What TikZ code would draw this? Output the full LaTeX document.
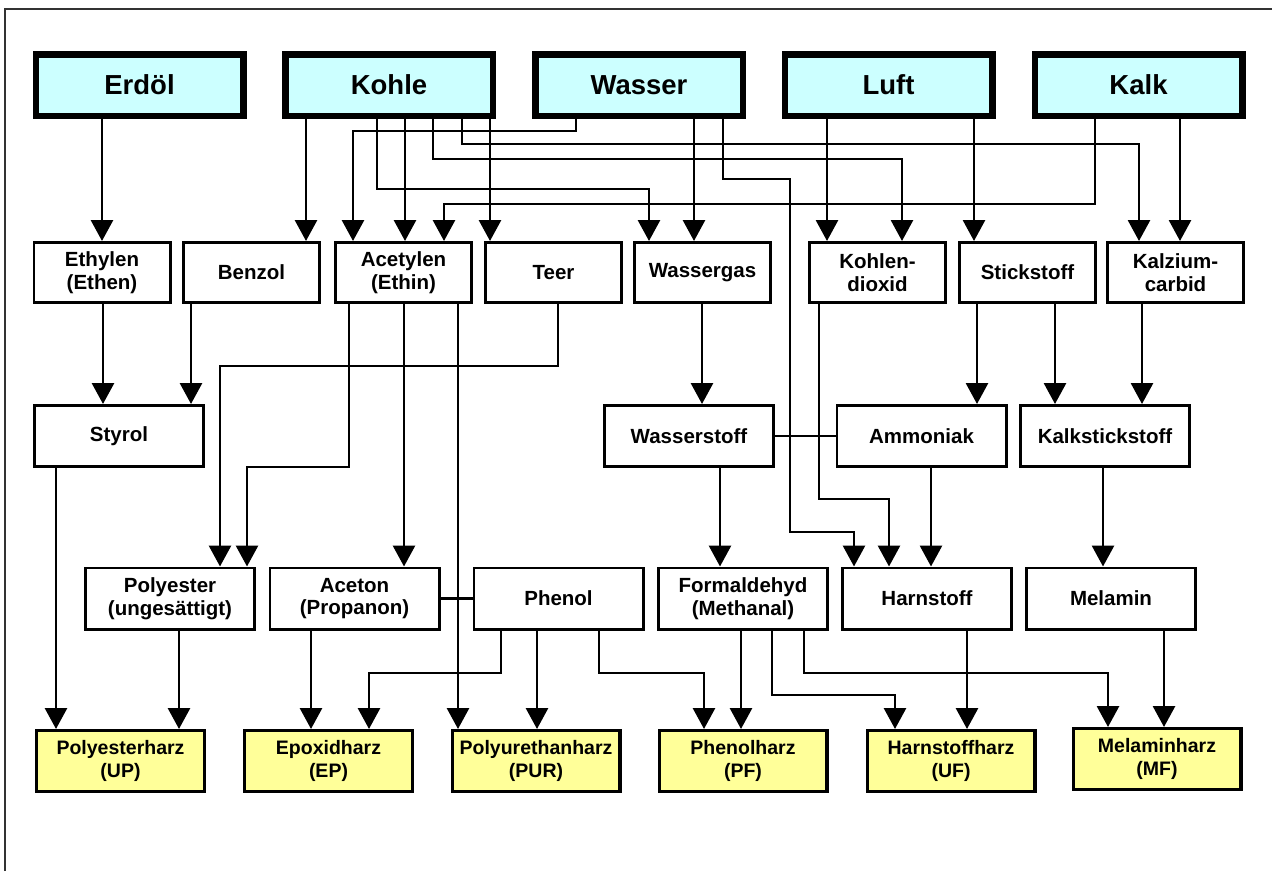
\documentclass[tikz,border=0pt]{standalone}
\usepackage{fontspec}
\setmainfont{Liberation Sans}
\usetikzlibrary{arrows.meta}
\definecolor{srcfill}{HTML}{CCFFFF}
\definecolor{resfill}{HTML}{FFFF99}
\definecolor{framecol}{HTML}{333333}
\begin{document}
\begin{tikzpicture}[x=1pt,y=-1pt,
  src/.style={draw, line width=6.5pt, fill=srcfill, inner sep=0pt, minimum width=207.5pt, minimum height=61.5pt, font=\fontsize{27.5}{30}\selectfont\bfseries},
  mid/.style={draw, line width=2.8pt, fill=white, inner sep=0pt, minimum width=136.2pt, minimum height=60.2pt, align=center, font=\fontsize{20.5}{22.5}\selectfont\bfseries},
  midw/.style={mid, minimum width=169.2pt, minimum height=61.2pt},
  res/.style={draw, line width=3.2pt, fill=resfill, inner sep=0pt, minimum width=167.8pt, minimum height=60.8pt, align=center, font=\fontsize{19.5}{23}\selectfont\bfseries},
  arr/.style={line width=2.9pt, -{Triangle[length=21pt,width=22pt]}},
  ln/.style={line width=2.9pt},
  frame/.style={line width=1.5pt, draw=framecol}
]
\useasboundingbox (0,0) rectangle (1272,871);
\draw[frame] (5,871) -- (5,9) -- (1272,9);

% sources
\node[src] (Erdoel) at (139.5,85) {Erdöl};
\node[src] (Kohle) at (389,85) {Kohle};
\node[src] (Wasser) at (639,85) {Wasser};
\node[src] (Luft) at (888.5,85) {Luft};
\node[src] (Kalk) at (1138.5,85) {Kalk};

% row 2
\node[mid] (Ethylen) at (102,272.5) {Ethylen\\(Ethen)};
\node[mid] (Benzol) at (251.5,272.5) {Benzol};
\node[mid] (Acetylen) at (403.5,272.5) {Acetylen\\(Ethin)};
\node[mid] (Teer) at (553.5,272.5) {Teer};
\node[mid] (Wassergas) at (702.5,272.5) {Wassergas};
\node[mid] (CO2) at (877.5,272.5) {Kohlen-\\dioxid};
\node[mid] (Stickstoff) at (1027.5,272.5) {Stickstoff};
\node[mid] (Carbid) at (1175.5,272.5) {Kalzium-\\carbid};

% row 3
\node[midw] (Styrol) at (119,436) {Styrol};
\node[midw] (Wasserstoff) at (689,436) {Wasserstoff};
\node[midw] (Ammoniak) at (921.5,436) {Ammoniak};
\node[midw] (Kalkstick) at (1105,436) {Kalkstickstoff};

% row 4
\node[midw] (Polyester) at (170,598.5) {Polyester\\(ungesättigt)};
\node[midw] (Aceton) at (354.5,598.5) {Aceton\\(Propanon)};
\node[midw] (Phenol) at (558.5,598.5) {Phenol};
\node[midw] (Formaldehyd) at (743,598.5) {Formaldehyd\\(Methanal)};
\node[midw] (Harnstoff) at (927,598.5) {Harnstoff};
\node[midw] (Melamin) at (1111,598.5) {Melamin};

% row 5
\node[res] (UP) at (120.5,761) {Polyesterharz\\(UP)};
\node[res] (EP) at (328.5,761) {Epoxidharz\\(EP)};
\node[res] (PUR) at (536,761) {Polyurethanharz\\(PUR)};
\node[res] (PF) at (743,761) {Phenolharz\\(PF)};
\node[res] (UF) at (951,761) {Harnstoffharz\\(UF)};
\node[res] (MF) at (1157,759) {Melaminharz\\(MF)};

% sources -> row 2
\draw[arr] (102,0 |- Erdoel.south) -- (102,0 |- Ethylen.north);
\draw[arr] (306,0 |- Kohle.south) -- (306,0 |- Benzol.north);
\draw[arr] (377,0 |- Kohle.south) -- (377,189) -- (649,189) -- (649,0 |- Wassergas.north);
\draw[arr] (405,0 |- Kohle.south) -- (405,0 |- Acetylen.north);
\draw[arr] (433,0 |- Kohle.south) -- (433,159) -- (902,159) -- (902,0 |- CO2.north);
\draw[arr] (462,0 |- Kohle.south) -- (462,144) -- (1139,144) -- (1139,0 |- Carbid.north);
\draw[arr] (490,0 |- Kohle.south) -- (490,0 |- Teer.north);
\draw[arr] (576,0 |- Wasser.south) -- (576,131) -- (353,131) -- (353,0 |- Acetylen.north);
\draw[arr] (694,0 |- Wasser.south) -- (694,0 |- Wassergas.north);
\draw[arr] (723,0 |- Wasser.south) -- (723,179) -- (790,179) -- (790,532) -- (854,532) -- (854,0 |- Harnstoff.north);
\draw[arr] (827,0 |- Luft.south) -- (827,0 |- CO2.north);
\draw[arr] (974,0 |- Luft.south) -- (974,0 |- Stickstoff.north);
\draw[arr] (1095,0 |- Kalk.south) -- (1095,204) -- (444,204) -- (444,0 |- Acetylen.north);
\draw[arr] (1180,0 |- Kalk.south) -- (1180,0 |- Carbid.north);

% row 2 -> row 3 / 4
\draw[arr] (103,0 |- Ethylen.south) -- (103,0 |- Styrol.north);
\draw[arr] (191,0 |- Benzol.south) -- (191,0 |- Styrol.north);
\draw[arr] (349,0 |- Acetylen.south) -- (349,467) -- (247,467) -- (247,0 |- Polyester.north);
\draw[arr] (404,0 |- Acetylen.south) -- (404,0 |- Aceton.north);
\draw[arr] (458,0 |- Acetylen.south) -- (458,0 |- PUR.north);
\draw[arr] (558,0 |- Teer.south) -- (558,366) -- (220,366) -- (220,0 |- Polyester.north);
\draw[arr] (702,0 |- Wassergas.south) -- (702,0 |- Wasserstoff.north);
\draw[arr] (819,0 |- CO2.south) -- (819,499) -- (889,499) -- (889,0 |- Harnstoff.north);
\draw[arr] (977,0 |- Stickstoff.south) -- (977,0 |- Ammoniak.north);
\draw[arr] (1055,0 |- Stickstoff.south) -- (1055,0 |- Kalkstick.north);
\draw[arr] (1142,0 |- Carbid.south) -- (1142,0 |- Kalkstick.north);

% row 3 -> row 4 / 5
\draw[ln] (Wasserstoff.east) -- (Ammoniak.west);
\draw[arr] (720,0 |- Wasserstoff.south) -- (720,0 |- Formaldehyd.north);
\draw[arr] (931,0 |- Ammoniak.south) -- (931,0 |- Harnstoff.north);
\draw[arr] (1103,0 |- Kalkstick.south) -- (1103,0 |- Melamin.north);
\draw[arr] (56,0 |- Styrol.south) -- (56,0 |- UP.north);

% row 4 -> row 5
\draw[arr] (179,0 |- Polyester.south) -- (179,0 |- UP.north);
\draw[arr] (311,0 |- Aceton.south) -- (311,0 |- EP.north);
\draw[ln] (Aceton.east) -- (Phenol.west);
\draw[arr] (501,0 |- Phenol.south) -- (501,673) -- (369,673) -- (369,0 |- EP.north);
\draw[arr] (537,0 |- Phenol.south) -- (537,0 |- PUR.north);
\draw[arr] (599,0 |- Phenol.south) -- (599,673) -- (704,673) -- (704,0 |- PF.north);
\draw[arr] (741,0 |- Formaldehyd.south) -- (741,0 |- PF.north);
\draw[arr] (772,0 |- Formaldehyd.south) -- (772,695) -- (895,695) -- (895,0 |- UF.north);
\draw[arr] (804,0 |- Formaldehyd.south) -- (804,673) -- (1108,673) -- (1108,0 |- MF.north);
\draw[arr] (967,0 |- Harnstoff.south) -- (967,0 |- UF.north);
\draw[arr] (1164,0 |- Melamin.south) -- (1164,0 |- MF.north);
\end{tikzpicture}
\end{document}
